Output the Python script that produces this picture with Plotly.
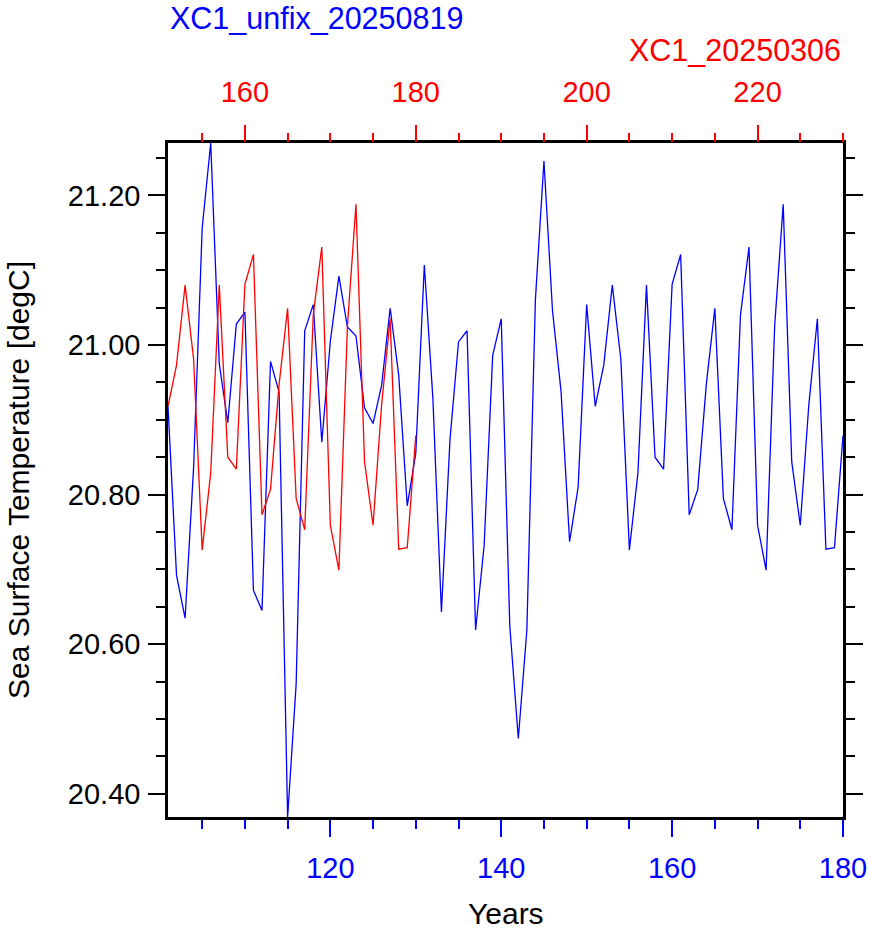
import plotly.graph_objects as go

# ---- data ----
blue_years = list(range(101, 181))
blue_sst = [
    20.918, 20.692, 20.635, 20.837, 21.156, 21.270, 20.975, 20.896, 21.028, 21.044,
    20.672, 20.645, 20.978, 20.937, 20.369, 20.547, 21.019, 21.054, 20.870, 21.005,
    21.092, 21.024, 21.012, 20.916, 20.895, 20.946, 21.049, 20.960, 20.785, 20.855,
    21.107, 20.929, 20.643, 20.873, 21.004, 21.019, 20.619, 20.732, 20.986, 21.035,
    20.625, 20.474, 20.619, 21.061, 21.246, 21.046, 20.938, 20.737, 20.810, 21.054,
    20.918, 20.973, 21.080, 20.981, 20.726, 20.829, 21.080, 20.850, 20.834, 21.081,
    21.121, 20.773, 20.807, 20.947, 21.049, 20.795, 20.753, 21.040, 21.131, 20.759,
    20.699, 21.025, 21.188, 20.844, 20.759, 20.920, 21.035, 20.727, 20.729, 20.879,
]
red_years = list(range(151, 181))
red_sst = [
    20.918, 20.973, 21.080, 20.981, 20.726, 20.829, 21.080, 20.850, 20.834, 21.081,
    21.121, 20.773, 20.807, 20.947, 21.049, 20.795, 20.753, 21.040, 21.131, 20.759,
    20.699, 21.025, 21.188, 20.844, 20.759, 20.920, 21.035, 20.727, 20.729, 20.879,
]
blue_name = "XC1_unfix_20250819"
red_name = "XC1_20250306"
x_title = "Years"
y_title = "Sea Surface Temperature [degC]"

BLUE = "#0000ff"
RED = "#ff0000"
FONT = "Liberation Sans, Arial, Helvetica, sans-serif"
FS = 29

fig = go.Figure()
fig.add_trace(go.Scatter(x=blue_years, y=blue_sst, mode="lines",
                         line=dict(color=BLUE, width=1.3), xaxis="x", yaxis="y",
                         name=blue_name))
fig.add_trace(go.Scatter(x=red_years, y=red_sst, mode="lines",
                         line=dict(color=RED, width=1.3), xaxis="x2", yaxis="y",
                         name=red_name))

fig.update_layout(
    width=872, height=931,
    margin=dict(l=168, r=29, t=143, b=114, autoexpand=False),
    paper_bgcolor="white", plot_bgcolor="white",
    showlegend=False,
    font=dict(family=FONT, size=FS, color="black"),
    xaxis=dict(
        range=[blue_years[0], blue_years[-1]], automargin=False,
        tickmode="linear", tick0=0, dtick=20,
        ticks="outside", ticklen=17, tickwidth=2, tickcolor=BLUE,
        tickfont=dict(size=FS, color=BLUE, family=FONT), ticklabelstandoff=6,
        showline=True, linecolor="black", linewidth=2.5, mirror=True,
        showgrid=False, zeroline=False,
        minor=dict(tickmode="linear", tick0=0, dtick=5, ticks="outside",
                   ticklen=9, tickwidth=1.5, tickcolor=BLUE, showgrid=False),
    ),
    xaxis2=dict(
        range=[red_years[0], red_years[0] + (blue_years[-1] - blue_years[0])],
        overlaying="x", side="top", anchor="y", automargin=False,
        tickmode="linear", tick0=0, dtick=20,
        ticks="outside", ticklen=17, tickwidth=2, tickcolor=RED,
        tickfont=dict(size=FS, color=RED, family=FONT), ticklabelstandoff=11,
        showline=False, showgrid=False, zeroline=False,
        minor=dict(tickmode="linear", tick0=0, dtick=5, ticks="outside",
                   ticklen=9, tickwidth=1.5, tickcolor=RED, showgrid=False),
    ),
    yaxis=dict(
        range=[min(blue_sst), max(blue_sst)], automargin=False,
        tickmode="linear", tick0=20.4, dtick=0.2, tickformat=".2f",
        ticks="outside", ticklen=17, tickwidth=2, tickcolor="black",
        tickfont=dict(size=FS, color="black", family=FONT), ticklabelstandoff=2,
        showline=True, linecolor="black", linewidth=2.5, mirror="ticks",
        showgrid=False, zeroline=False,
        minor=dict(tickmode="linear", tick0=20.4, dtick=0.05, ticks="outside",
                   ticklen=9, tickwidth=1.5, tickcolor="black", showgrid=False),
    ),
    annotations=[
        dict(text=blue_name, xref="paper", yref="paper", x=0, y=1,
             xanchor="left", yanchor="middle", yshift=125, showarrow=False,
             font=dict(size=30.5, color=BLUE, family=FONT)),
        dict(text=red_name, xref="paper", yref="paper", x=1, y=1,
             xanchor="right", yanchor="middle", yshift=93, showarrow=False,
             font=dict(size=30.5, color=RED, family=FONT)),
        dict(text=x_title, xref="paper", yref="paper", x=0.5, y=0,
             xanchor="center", yanchor="middle", yshift=-96, showarrow=False,
             font=dict(size=30, color="black", family=FONT)),
        dict(text=y_title, xref="paper", yref="paper", x=0, y=0.5,
             xanchor="center", yanchor="middle", xshift=-150, textangle=-90,
             showarrow=False, font=dict(size=30, color="black", family=FONT)),
    ],
)

fig.write_html("out.html")
